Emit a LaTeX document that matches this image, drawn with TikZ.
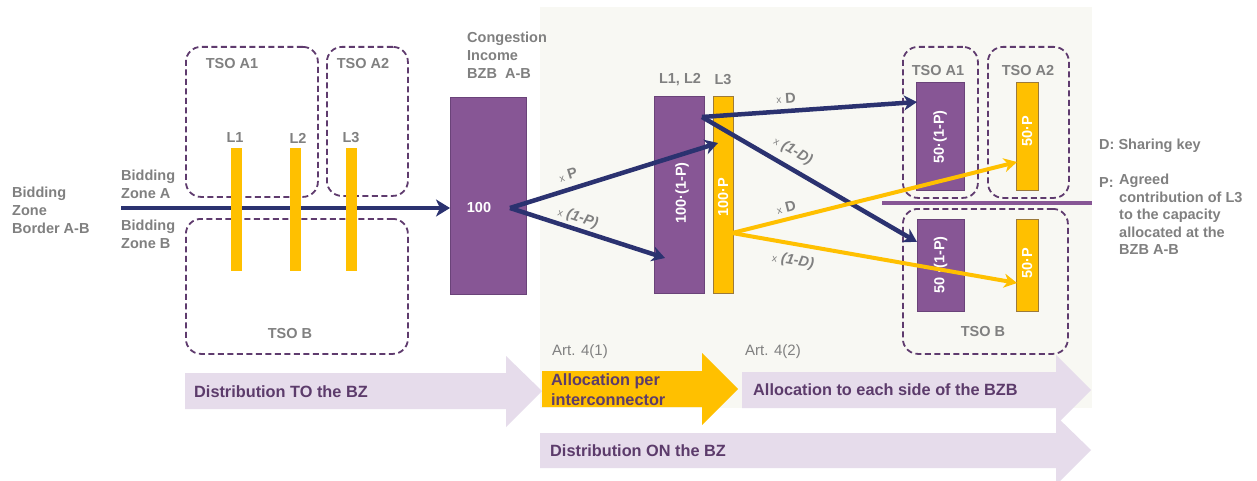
\documentclass[tikz,border=0pt]{standalone}
\usepackage{fontspec}
\setmainfont{Liberation Sans}
\usetikzlibrary{arrows.meta}
\definecolor{navy}{HTML}{2B3270}
\definecolor{purp}{HTML}{875695}
\definecolor{purpedge}{HTML}{6A4379}
\definecolor{gold}{HTML}{FFC000}
\definecolor{goldedge}{HTML}{9C7A3A}
\definecolor{dashc}{HTML}{5F3B6E}
\definecolor{greytxt}{HTML}{808080}
\definecolor{lav}{HTML}{E6DCEB}
\definecolor{lavtxt}{HTML}{5C3B6B}
\definecolor{pale}{HTML}{F8F8F3}
\newcommand\mylbl{\fontsize{14.5}{18}\selectfont\bfseries}
\newcommand\myarr{\fontsize{16.3}{20}\selectfont\bfseries}
\newcommand\mysmall{\fontsize{10}{12}\selectfont\mdseries}
\tikzset{
  tsobox/.style={draw=dashc, line width=1.8pt, dash pattern=on 6pt off 3.5pt,
    rounded corners=15pt, rectangle, anchor=north west, inner sep=0pt},
  pbox/.style={fill=purp, draw=purpedge, line width=0.8pt, rectangle, anchor=north west, inner sep=0pt},
  ybox/.style={fill=gold, draw=goldedge, line width=0.8pt, rectangle, anchor=north west, inner sep=0pt},
  ybar/.style={fill=gold, rectangle, anchor=north west, inner sep=0pt},
  lbl/.style={text=greytxt, font=\mylbl, inner sep=0pt, align=left},
  boxtxt/.style={text=white, font=\mylbl, inner sep=0pt, rotate=90},
  arrtxt/.style={text=lavtxt, font=\myarr, inner sep=0pt, align=left, anchor=west},
  arttxt/.style={text=greytxt, font=\fontsize{15}{17}\selectfont, inner sep=0pt, anchor=west},
  navyarrow/.style={draw=navy, line width=4.5pt, -{Stealth[length=13pt,width=15pt,inset=4pt]}},
  goldarrow/.style={draw=gold, line width=4pt, -{Stealth[length=13pt,width=14pt,inset=4pt]}},
  factor/.style={text=greytxt, font=\mylbl, inner sep=0pt},
}
\begin{document}
\begin{tikzpicture}[x=1pt,y=-1pt]
\useasboundingbox (0,0) rectangle (1257,481);
\fill[white] (0,0) rectangle (1257,481);
\fill[pale] (540,7) rectangle (1092,408);

% bottom process arrows
\fill[lav] (185,373) -- (506,373) -- (506,356) -- (542,391) -- (506,427) -- (506,409) -- (185,409) -- cycle;
\fill[lav] (742,372) -- (1056,372) -- (1056,355) -- (1091,390) -- (1056,425) -- (1056,408) -- (742,408) -- cycle;
\fill[lav] (540,433) -- (1056,433) -- (1056,416) -- (1091,450) -- (1056,485) -- (1056,468) -- (540,468) -- cycle;
\fill[gold] (542,371) -- (702,371) -- (702,353) -- (738,389) -- (702,425) -- (702,407) -- (542,407) -- cycle;
\node[arrtxt] (tto) at (194,392) {Distribution TO the BZ};
\node[arrtxt] (tper) at (551,390) {Allocation per\\interconnector};
\node[arrtxt] (tside) at (753,390) {Allocation to each side of the BZB};
\node[arrtxt] (ton) at (550,451) {Distribution ON the BZ};
\node[arttxt] (art1) at (552,352) {Art. 4(1)};
\node[arttxt] (art2) at (745,352) {Art. 4(2)};

% left part
\node[tsobox, minimum width=132, minimum height=150] (tsoA1) at (185,46) {};
\node[tsobox, minimum width=81, minimum height=149] (tsoA2) at (326,46) {};
\node[tsobox, minimum width=222, minimum height=135] (tsoB) at (185,218) {};
\node[lbl] (ltA1) at (232,64) {TSO A1};
\node[lbl] (ltA2) at (363,64) {TSO A2};
\node[lbl] (ltB) at (290,334) {TSO B};

\node[pbox, minimum width=76, minimum height=197] (ci) at (450,97) {};
\coordinate (bzstart) at (121,208);
\draw[navyarrow, -{Stealth[length=14pt,width=17pt,inset=4pt]}] (bzstart) -- (bzstart -| ci.west);

\node[ybar, minimum width=10.5, minimum height=123] (L1) at (231,148) {};
\node[ybar, minimum width=10.5, minimum height=123] (L2) at (290,148) {};
\node[ybar, minimum width=10.5, minimum height=123] (L3) at (346,148) {};
\node[lbl] (lL1) at (235,138) {L1};
\node[lbl] (lL2) at (298,138) {L2};
\node[lbl] (lL3) at (351,138) {L3};

\node[lbl, anchor=west] (bzb) at (12,210) {Bidding\\Zone\\Border A-B};
\node[lbl, anchor=west] (bza) at (121,184) {Bidding\\Zone A};
\node[lbl, anchor=west] (bzbb) at (121,234) {Bidding\\Zone B};
\node[lbl, anchor=west] (cong) at (467,55) {Congestion\\Income\\BZB\ \ A-B};
\node[text=white, font=\mylbl, inner sep=0pt] (hundred) at (479,208) {100};

% middle boxes
\node[pbox, minimum width=50, minimum height=197] (l12) at (654,96) {};
\node[ybox, minimum width=20, minimum height=197] (l3) at (713,96) {};
\node[boxtxt] (tl12) at (682,193) {100·(1-P)};
\node[boxtxt] (tl3) at (723,197) {100·P};
\node[lbl] (ll12) at (680,80) {L1, L2};
\node[lbl] (ll3) at (723,80) {L3};

% right part
\draw[draw=purp, line width=4.5pt] (882,203) -- (1092,203);
\node[tsobox, minimum width=75, minimum height=151] (tsoA1r) at (902,46) {};
\node[tsobox, minimum width=81, minimum height=151] (tsoA2r) at (987,46) {};
\node[tsobox, minimum width=165, minimum height=145] (tsoBr) at (902,208) {};
\node[lbl] (ltA1r) at (938,71) {TSO A1};
\node[lbl] (ltA2r) at (1028,71) {TSO A2};
\node[lbl] (ltBr) at (983,332) {TSO B};
\node[pbox, minimum width=48, minimum height=108] (pA1) at (916,82) {};
\node[ybox, minimum width=22, minimum height=108] (yA2) at (1016,82) {};
\node[pbox, minimum width=47, minimum height=92] (pB) at (917,219) {};
\node[ybox, minimum width=22, minimum height=92] (yB) at (1016,219) {};
\node[boxtxt] (tpA1) at (940,137) {50·(1-P)};
\node[boxtxt] (tyA2) at (1027,131) {50·P};
\node[boxtxt] (tpB) at (940.5,265) {50 ·(1-P)};
\node[boxtxt] (tyB) at (1027,263) {50·P};

% flows
\coordinate (cio) at (510,208);
\coordinate (tipP) at (718,143);
\coordinate (tip1P) at (665,258);
\coordinate (l12o) at (702,117);
\coordinate (tipD) at (917,102);
\coordinate (tip1D) at (917,242);
\coordinate (l3o) at (732,233);
\coordinate (ytipD) at (1017,162);
\coordinate (ytip1D) at (1017,283);
\draw[navyarrow] (cio) -- (tipP);
\draw[navyarrow] (cio) -- (tip1P);
\draw[navyarrow] (l12o) -- (tipD);
\draw[navyarrow] (l12o) -- (tip1D);
\draw[goldarrow] (l3o) -- (ytipD);
\draw[goldarrow] (l3o) -- (ytip1D);

\node[factor, rotate=17] (fP) at (568,175) {{\mysmall x} P};
\node[factor, rotate=-18] (f1P) at (578,218) {{\mysmall x} \textit{(1-P)}};
\node[factor, rotate=4] (fD) at (786,98) {{\mysmall x} D};
\node[factor, rotate=-30] (f1D) at (793,151) {{\mysmall x} \textit{(1-D)}};
\node[factor, rotate=14] (fyD) at (786,207) {{\mysmall x} D};
\node[factor, rotate=-10] (fy1D) at (793,261) {{\mysmall x} \textit{(1-D)}};

% legend
\node[lbl, anchor=west] (legD) at (1099,146) {D: Sharing key};
\node[lbl, anchor=west] (legP) at (1099,183) {P:};
\node[lbl, anchor=north west, font=\fontsize{14.5}{17.5}\selectfont\bfseries] (legPt) at (1119,174) {Agreed\\contribution of L3\\to the capacity\\allocated at the\\BZB A-B};
\end{tikzpicture}
\end{document}
